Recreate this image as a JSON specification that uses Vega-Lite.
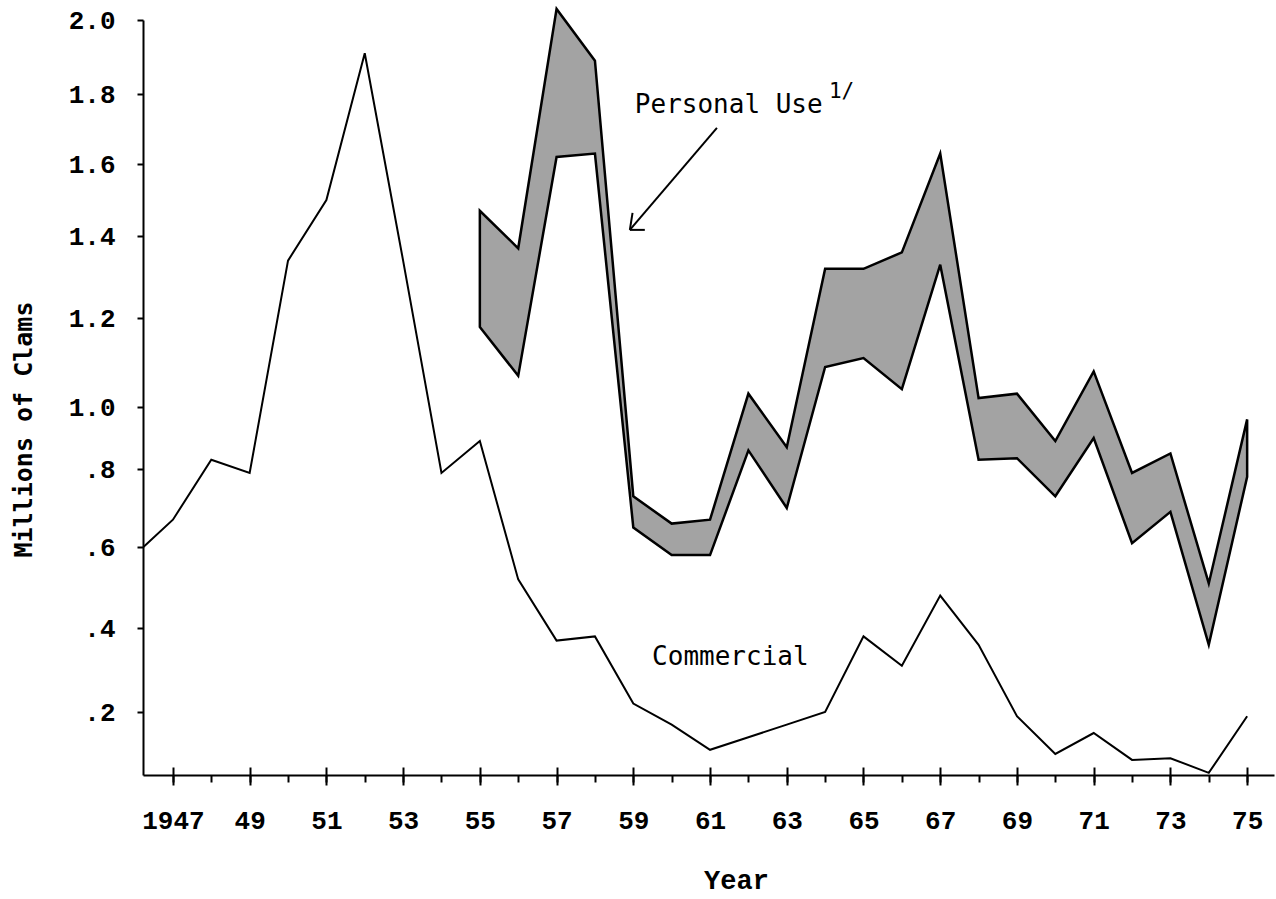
{
  "$schema": "https://vega.github.io/schema/vega-lite/v6.json",
  "width": 1131,
  "height": 755,
  "autosize": "none",
  "padding": {"left": 143, "top": 20, "right": 2, "bottom": 124},
  "background": "white",
  "config": {
    "view": {"stroke": null},
    "axis": {"domainColor": "black", "tickColor": "black", "labelColor": "black", "titleColor": "black", "grid": false}
  },
  "datasets": {
    "commercial": [
      {"year": 1946, "value": 0.58}, {"year": 1947, "value": 0.67}, {"year": 1948, "value": 0.83},
      {"year": 1949, "value": 0.79}, {"year": 1950, "value": 1.34}, {"year": 1951, "value": 1.5},
      {"year": 1952, "value": 1.91}, {"year": 1953, "value": 1.34}, {"year": 1954, "value": 0.79},
      {"year": 1955, "value": 0.89}, {"year": 1956, "value": 0.52}, {"year": 1957, "value": 0.37},
      {"year": 1958, "value": 0.38}, {"year": 1959, "value": 0.22}, {"year": 1960, "value": 0.17},
      {"year": 1961, "value": 0.11}, {"year": 1962, "value": 0.14}, {"year": 1963, "value": 0.17},
      {"year": 1964, "value": 0.2}, {"year": 1965, "value": 0.38}, {"year": 1966, "value": 0.31},
      {"year": 1967, "value": 0.48}, {"year": 1968, "value": 0.36}, {"year": 1969, "value": 0.19},
      {"year": 1970, "value": 0.1}, {"year": 1971, "value": 0.15}, {"year": 1972, "value": 0.086},
      {"year": 1973, "value": 0.09}, {"year": 1974, "value": 0.055}, {"year": 1975, "value": 0.19}
    ],
    "personal": [
      {"year": 1955, "low": 1.18, "high": 1.47}, {"year": 1956, "low": 1.07, "high": 1.37},
      {"year": 1957, "low": 1.62, "high": 2.03}, {"year": 1958, "low": 1.63, "high": 1.89},
      {"year": 1959, "low": 0.65, "high": 0.73}, {"year": 1960, "low": 0.58, "high": 0.66},
      {"year": 1961, "low": 0.58, "high": 0.67}, {"year": 1962, "low": 0.86, "high": 1.03},
      {"year": 1963, "low": 0.7, "high": 0.87}, {"year": 1964, "low": 1.09, "high": 1.32},
      {"year": 1965, "low": 1.11, "high": 1.32}, {"year": 1966, "low": 1.04, "high": 1.36},
      {"year": 1967, "low": 1.33, "high": 1.63}, {"year": 1968, "low": 0.83, "high": 1.02},
      {"year": 1969, "low": 0.835, "high": 1.03}, {"year": 1970, "low": 0.73, "high": 0.89},
      {"year": 1971, "low": 0.9, "high": 1.08}, {"year": 1972, "low": 0.61, "high": 0.79},
      {"year": 1973, "low": 0.69, "high": 0.85}, {"year": 1974, "low": 0.36, "high": 0.51},
      {"year": 1975, "low": 0.78, "high": 0.96}
    ],
    "labels": [
      {"label": "Personal Use", "year": 1959.04, "value": 1.746},
      {"label": "Commercial", "year": 1959.49, "value": 0.312}
    ],
    "footnote": [
      {"label": "1/", "year": 1964.1, "value": 1.79}
    ],
    "arrow": [
      {"year": 1961.18, "value": 1.703, "year2": 1958.91, "value2": 1.417},
      {"year": 1958.91, "value": 1.417, "year2": 1958.98, "value2": 1.464},
      {"year": 1958.91, "value": 1.417, "year2": 1959.3, "value2": 1.417}
    ]
  },
  "resolve": {"axis": {"x": "independent", "y": "independent"}},
  "layer": [
    {
      "data": {"name": "personal"},
      "mark": {"type": "area", "fill": "#a3a3a3", "stroke": "black", "strokeWidth": 2.5, "strokeJoin": "miter"},
      "encoding": {
        "x": {
          "field": "year", "type": "quantitative",
          "scale": {"domain": [1946.22, 1975.7], "nice": false, "zero": false},
          "axis": {
            "orient": "bottom",
            "values": [1947,1948,1949,1950,1951,1952,1953,1954,1955,1956,1957,1958,1959,1960,1961,1962,1963,1964,1965,1966,1967,1968,1969,1970,1971,1972,1973,1974,1975],
            "tickSize": 7, "tickWidth": 2, "labels": false, "domain": true, "domainWidth": 2, "title": null
          }
        },
        "y": {
          "field": "low", "type": "quantitative",
          "scale": {"domain": [0.05, 0.2, 0.4, 0.6, 0.8, 1.0, 1.2, 1.4, 1.6, 1.8, 2.0], "range": [755, 692, 608, 527, 449, 387, 298, 216, 144, 74, 0], "nice": false, "zero": false},
          "axis": null
        },
        "y2": {"field": "high"}
      }
    },
    {
      "data": {"name": "commercial"},
      "mark": {"type": "line", "color": "black", "strokeWidth": 2, "clip": true},
      "encoding": {
        "x": {
          "field": "year", "type": "quantitative",
          "scale": {"domain": [1946.22, 1975.7], "nice": false, "zero": false},
          "axis": {
            "orient": "bottom",
            "values": [1947,1949,1951,1953,1955,1957,1959,1961,1963,1965,1967,1969,1971,1973,1975],
            "tickSize": 10, "tickWidth": 2, "domain": false,
            "labelExpr": "datum.value == 1947 ? '1947' : substring(toString(datum.value), 2)",
            "labelFont": "Liberation Mono", "labelFontWeight": "bold", "labelFontSize": 26, "labelPadding": 22,
            "labelFlush": false, "labelOverlap": false,
            "title": "Year", "titleFont": "Liberation Mono", "titleFontWeight": "bold", "titleFontSize": 27,
            "titleX": 593, "titleY": 105, "titleAlign": "center", "titleBaseline": "middle"
          }
        },
        "y": {
          "field": "value", "type": "quantitative",
          "scale": {"domain": [0.05, 0.2, 0.4, 0.6, 0.8, 1.0, 1.2, 1.4, 1.6, 1.8, 2.0], "range": [755, 692, 608, 527, 449, 387, 298, 216, 144, 74, 0], "nice": false, "zero": false},
          "axis": {
            "orient": "left",
            "values": [0.2, 0.4, 0.6, 0.8, 1.0, 1.2, 1.4, 1.6, 1.8, 2.0],
            "tickSize": 6, "tickWidth": 2, "domain": true, "domainWidth": 2,
            "labelFont": "Liberation Mono", "labelFontWeight": "bold", "labelFontSize": 26, "labelPadding": 22,
            "labelExpr": "datum.value >= 1 ? format(datum.value, '.1f') : replace(format(datum.value, '.1f'), '0.', '.')",
            "title": "Millions of Clams", "titleFont": "DejaVu Sans Mono", "titleFontWeight": "bold", "titleFontSize": 25,
            "titleX": -120, "titleY": 409, "titleAngle": -90, "titleAlign": "center", "titleBaseline": "middle"
          }
        }
      }
    },
    {
      "data": {"name": "arrow"},
      "mark": {"type": "rule", "color": "black", "strokeWidth": 2},
      "encoding": {
        "x": {
          "field": "year", "type": "quantitative",
          "scale": {"domain": [1946.22, 1975.7], "nice": false, "zero": false},
          "axis": {
            "orient": "bottom",
            "values": [1947,1949,1951,1953,1955,1957,1959,1961,1963,1965,1967,1969,1971,1973,1975],
            "offset": -8, "tickSize": 8, "tickWidth": 2, "labels": false, "domain": false, "title": null
          }
        },
        "x2": {"field": "year2"},
        "y": {
          "field": "value", "type": "quantitative",
          "scale": {"domain": [0.05, 0.2, 0.4, 0.6, 0.8, 1.0, 1.2, 1.4, 1.6, 1.8, 2.0], "range": [755, 692, 608, 527, 449, 387, 298, 216, 144, 74, 0], "nice": false, "zero": false},
          "axis": null
        },
        "y2": {"field": "value2"}
      }
    },
    {
      "data": {"name": "labels"},
      "mark": {"type": "text", "font": "DejaVu Sans Mono", "fontSize": 26, "align": "left", "baseline": "alphabetic", "color": "black"},
      "encoding": {
        "x": {"field": "year", "type": "quantitative", "scale": {"domain": [1946.22, 1975.7], "nice": false, "zero": false}, "axis": null},
        "y": {
          "field": "value", "type": "quantitative",
          "scale": {"domain": [0.05, 0.2, 0.4, 0.6, 0.8, 1.0, 1.2, 1.4, 1.6, 1.8, 2.0], "range": [755, 692, 608, 527, 449, 387, 298, 216, 144, 74, 0], "nice": false, "zero": false},
          "axis": null
        },
        "text": {"field": "label"}
      }
    },
    {
      "data": {"name": "footnote"},
      "mark": {"type": "text", "font": "DejaVu Sans Mono", "fontSize": 21, "align": "left", "baseline": "alphabetic", "color": "black"},
      "encoding": {
        "x": {"field": "year", "type": "quantitative", "scale": {"domain": [1946.22, 1975.7], "nice": false, "zero": false}, "axis": null},
        "y": {
          "field": "value", "type": "quantitative",
          "scale": {"domain": [0.05, 0.2, 0.4, 0.6, 0.8, 1.0, 1.2, 1.4, 1.6, 1.8, 2.0], "range": [755, 692, 608, 527, 449, 387, 298, 216, 144, 74, 0], "nice": false, "zero": false},
          "axis": null
        },
        "text": {"field": "label"}
      }
    }
  ]
}
